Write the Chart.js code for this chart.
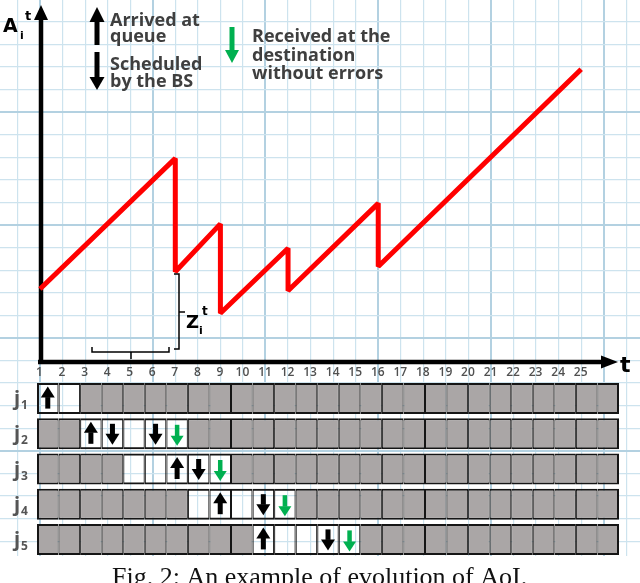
<!DOCTYPE html>
<html lang="en">
<head>
  <meta charset="UTF-8">
  <title>Evolution of AoI</title>
  <script src="https://cdn.jsdelivr.net/npm/chart.js"></script>
  <style>
    body { margin: 0; background: #fff; }
    #fig { position: relative; width: 640px; height: 583px; overflow: hidden; background: #fff; }
    #aoi { position: absolute; left: 0; top: 0; }
    #slots { position: absolute; left: 0; top: 381px; }
  </style>
</head>
<body>
  <div id="fig">
    <canvas id="aoi" width="640" height="583"></canvas>
    <canvas id="slots" width="640" height="176"></canvas>
  </div>

  <script>
    // AoI curve: time slot and age at each corner of the saw-tooth
    const ageTimes = [1, 7, 7, 9, 9, 12, 12, 16, 16, 25];
    const ageValues = [3.17, 8.95, 3.93, 6.05, 2.09, 4.97, 3.09, 6.96, 4.16, 12.9];
    const slotLabels = [1, 2, 3, 4, 5, 6, 7, 8, 9, 10, 11, 12, 13, 14, 15, 16, 17, 18, 19, 20, 21, 22, 23, 24, 25];

    // packets j1..j5, one row of slots each
    const packetIds = [1, 2, 3, 4, 5];
    const slotCount = 27;
    const idleFrom = [1, 3, 5, 8, 11];   // first white slot of the row
    const idleTo = [2, 7, 9, 12, 15];    // last white slot of the row
    const arrivedAt = [[1], [3], [7], [9], [11]];
    const scheduledAt = [[], [4, 6], [8], [11], [14]];
    const receivedAt = [[], [7], [9], [12], [15]];

    const textGray = "#3f3f3f";
    const okGreen = "#00b050";
    const cellGray = "#aaa6a6";

    // arrow from (x1,y1) to the tip (x2,y2)
    function arrow(ctx, x1, y1, x2, y2, color, headLen, headW, shaftW) {
      const ang = Math.atan2(y2 - y1, x2 - x1);
      const len = Math.hypot(x2 - x1, y2 - y1);
      ctx.save();
      ctx.translate(x1, y1);
      ctx.rotate(ang);
      ctx.fillStyle = color;
      ctx.fillRect(0, -shaftW / 2, len - headLen + 0.5, shaftW);
      ctx.beginPath();
      ctx.moveTo(len - headLen, -headW / 2);
      ctx.lineTo(len, 0);
      ctx.lineTo(len - headLen, headW / 2);
      ctx.closePath();
      ctx.fill();
      ctx.restore();
    }

    function gridMajor(v) {
      return (((Math.round(v) % 5) + 5) % 5) === 1;
    }

    // axes, tick numbers, legend, braces and caption
    const framePlugin = {
      id: "frame",
      beforeDatasetsDraw(chart) {
        const { ctx, scales: { x, y } } = chart;
        const ax = x.getPixelForValue(1) + 1;
        const ay = y.getPixelForValue(0) + 1.5;
        arrow(ctx, ax, ay + 2, ax, 5, "#000", 15, 14, 4.5);
        arrow(ctx, ax - 3, ay, 618, ay, "#000", 17, 13, 4.5);
      },
      afterDatasetsDraw(chart) {
        const { ctx, scales: { x, y } } = chart;
        const ay = y.getPixelForValue(0) + 1.5;
        ctx.save();

        // slot numbers under the time axis
        ctx.font = '600 12px "Open Sans"';
        ctx.fillStyle = "#505050";
        ctx.textAlign = "center";
        ctx.textBaseline = "middle";
        slotLabels.forEach(t => ctx.fillText(String(t), x.getPixelForValue(t) - 0.5, ay + 11));

        ctx.textAlign = "left";
        ctx.textBaseline = "alphabetic";
        ctx.fillStyle = "#000";
        ctx.font = 'bold 22px "DejaVu Sans"';
        ctx.fillText("t", 620, 371.5);

        ctx.font = 'bold 19px "DejaVu Sans"';
        ctx.fillText("A", 3, 31.5);
        ctx.font = 'bold 11px "DejaVu Sans"';
        ctx.fillText("i", 20, 38.5);
        ctx.font = 'bold 13px "DejaVu Sans"';
        ctx.fillText("t", 25, 20);

        // legend
        arrow(ctx, 97, 45, 97, 7, "#000", 15, 15, 5);
        arrow(ctx, 97, 52, 97, 90, "#000", 13, 15, 5);
        arrow(ctx, 232, 27, 232, 63, okGreen, 13, 14, 5);
        ctx.fillStyle = textGray;
        ctx.font = 'bold 18px "Open Sans"';
        ctx.fillText("Arrived at", 110, 26);
        ctx.fillText("queue", 110, 42);
        ctx.fillText("Scheduled", 110, 70);
        ctx.fillText("by the BS", 110, 87);
        ctx.fillText("Received at the", 252, 42);
        ctx.fillText("destination", 252, 61);
        ctx.fillText("without errors", 252, 79);

        // braces marking Z_i^t
        ctx.strokeStyle = "#000";
        ctx.lineWidth = 1.5;
        ctx.beginPath();
        ctx.moveTo(174, 274); ctx.lineTo(179, 274); ctx.lineTo(179, 349); ctx.lineTo(174, 349);
        ctx.moveTo(179, 312); ctx.lineTo(185, 312);
        ctx.moveTo(92, 347); ctx.lineTo(92, 352); ctx.lineTo(169, 352); ctx.lineTo(169, 347);
        ctx.moveTo(131, 352); ctx.lineTo(131, 359);
        ctx.stroke();
        ctx.fillStyle = "#000";
        ctx.font = 'bold 18px "DejaVu Sans"';
        ctx.fillText("Z", 186, 328);
        ctx.font = 'bold 11px "DejaVu Sans"';
        ctx.fillText("i", 199, 333.5);
        ctx.font = 'bold 12px "DejaVu Sans"';
        ctx.fillText("t", 202, 315);

        // caption
        ctx.fillStyle = "#111";
        ctx.font = '26px "Liberation Serif"';
        ctx.fillText("Fig. 2: An example of evolution of AoI.", 112, 585);
        ctx.restore();
      }
    };

    new Chart(document.getElementById("aoi"), {
      type: "line",
      data: {
        datasets: [{
          data: ageTimes.map((t, i) => ({ x: t, y: ageValues[i] })),
          borderColor: "#ff0000",
          borderWidth: 5,
          borderJoinStyle: "bevel",
          pointRadius: 0,
          tension: 0
        }]
      },
      options: {
        responsive: false,
        animation: false,
        events: [],
        layout: { padding: { left: 0, right: 0, top: 0, bottom: 27 } },
        plugins: { legend: { display: false }, tooltip: { enabled: false } },
        scales: {
          x: {
            type: "linear",
            min: -0.774,
            max: 27.608,
            afterFit: s => { s.height = 0; },
            border: { display: false },
            ticks: { display: false, stepSize: 1, includeBounds: false },
            grid: {
              drawTicks: false,
              color: c => gridMajor(c.tick.value) ? "#b3d1e1" : "#cde3ee",
              lineWidth: c => gridMajor(c.tick.value) ? 2 : 1.2
            }
          },
          y: {
            type: "linear",
            min: -8.658,
            max: 15.966,
            afterFit: s => { s.width = 0; },
            border: { display: false },
            ticks: { display: false, stepSize: 1, includeBounds: false },
            grid: {
              drawTicks: false,
              color: c => gridMajor(c.tick.value) ? "#b3d1e1" : "#cde3ee",
              lineWidth: c => gridMajor(c.tick.value) ? 2 : 1.2
            }
          }
        }
      },
      plugins: [framePlugin]
    });

    // slot rows: one stacked segment per slot
    const cellSets = [];
    for (let k = 1; k <= slotCount; k++) {
      cellSets.push({
        data: packetIds.map(() => 1),
        backgroundColor: packetIds.map((id, i) => (k >= idleFrom[i] && k <= idleTo[i]) ? "rgba(255,255,255,0)" : cellGray),
        borderColor: "#151515",
        borderWidth: { top: 2, bottom: 2, left: k === 1 ? 2 : 1, right: k === slotCount ? 2 : 1 },
        borderSkipped: false,
        barPercentage: 0.88,
        categoryPercentage: 1
      });
    }

    const markPlugin = {
      id: "marks",
      afterDatasetsDraw(chart) {
        const { ctx, scales: { x, y } } = chart;
        packetIds.forEach((id, i) => {
          const yc = y.getPixelForValue(i);
          arrivedAt[i].forEach(k => {
            const xc = x.getPixelForValue(k - 0.5);
            arrow(ctx, xc, yc + 10, xc, yc - 12, "#000", 11, 14, 5);
          });
          scheduledAt[i].forEach(k => {
            const xc = x.getPixelForValue(k - 0.5);
            arrow(ctx, xc, yc - 10, xc, yc + 11, "#000", 11, 14, 5);
          });
          receivedAt[i].forEach(k => {
            const xc = x.getPixelForValue(k - 0.5);
            arrow(ctx, xc, yc - 9, xc, yc + 12, okGreen, 10, 13, 4.5);
          });
          // row label j_n
          ctx.save();
          ctx.fillStyle = "#555";
          ctx.font = 'bold 20px "Open Sans"';
          ctx.fillText("j", 14, yc + 6.5);
          ctx.font = 'bold 12px "Open Sans"';
          ctx.fillText(String(id), 21, yc + 10.5);
          ctx.restore();
        });
      }
    };

    new Chart(document.getElementById("slots"), {
      type: "bar",
      data: {
        labels: packetIds.map(id => "j" + id),
        datasets: cellSets
      },
      options: {
        indexAxis: "y",
        responsive: false,
        animation: false,
        events: [],
        layout: { padding: { left: 37, right: 21, top: 0, bottom: 0 } },
        plugins: { legend: { display: false }, tooltip: { enabled: false } },
        scales: {
          x: { display: false, stacked: true, min: 0, max: slotCount },
          y: { display: false, stacked: true }
        }
      },
      plugins: [markPlugin]
    });
  </script>
</body>
</html>
